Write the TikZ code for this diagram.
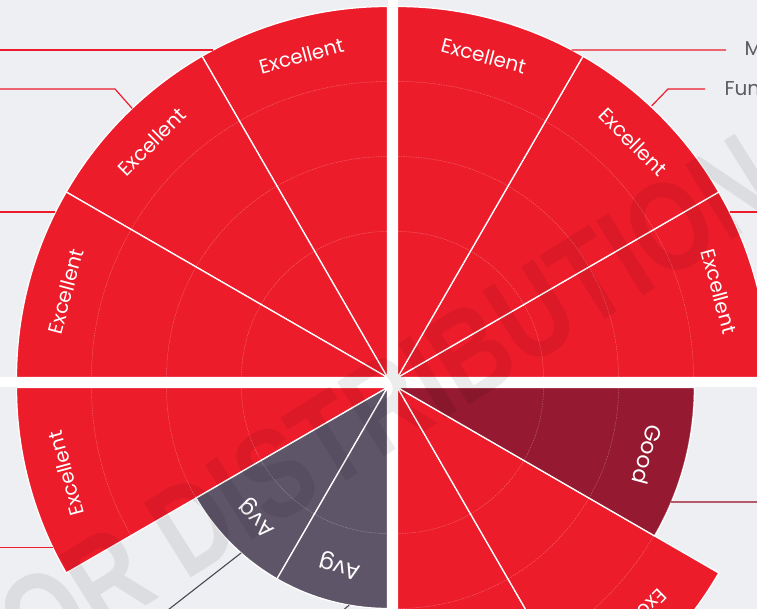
\documentclass[tikz,border=0pt]{standalone}
\usepackage{fontspec}
\setmainfont{Poppins}
\newfontfamily\markfont{Liberation Sans}
\usetikzlibrary{calc}

\definecolor{bgc}{HTML}{EEEFF3}
\definecolor{exc}{HTML}{ED1C2B}
\definecolor{goodc}{HTML}{951930}
\definecolor{avgc}{HTML}{5F5569}
\definecolor{lblgray}{HTML}{5B5C61}
\definecolor{goodline}{HTML}{B5596B}
\definecolor{avgline}{HTML}{4D4556}

% centre, from, to, radius, colour
\newcommand{\ratingslice}[5]{%
  \begin{scope}
    \clip (#1) -- ++(#2:#4) arc[start angle=#2, end angle=#3, radius=#4] -- cycle;
    \fill[#5] (#1) circle (#4);
    \foreach \rr in {146,221,296} \draw[ring] (#1) circle (\rr);
  \end{scope}
  \draw[sep] (#1) -- ++(#2:#4) arc[start angle=#2, end angle=#3, radius=#4] -- cycle;
}

\begin{document}
\begin{tikzpicture}[x=1pt,y=1pt,
    ring/.style={draw=white, draw opacity=0.3, line width=0.5pt, dash pattern=on 1.5pt off 1pt},
    sep/.style={draw=white, line width=1.3pt},
    lbl/.style={text=white, font=\fontsize{20}{24}\selectfont},
    lblbig/.style={text=white, font=\fontsize{22}{26}\selectfont},
    leader/.style={draw=exc, line width=1.2pt},
    side/.style={text=lblgray, font=\fontsize{20}{24}\selectfont, anchor=base west}]

  \useasboundingbox (0,0) rectangle (757,609);
  \clip (0,0) rectangle (757,609);
  \fill[bgc] (0,0) rectangle (757,609);

  \coordinate (origin) at (0,0);
  \coordinate (rightedge) at (757,0);
  \coordinate (tl) at (387.5,231.5);
  \coordinate (tr) at (397.5,231.5);
  \coordinate (bl) at (387.5,221.5);
  \coordinate (br) at (397.5,221.5);

  \ratingslice{tl}{90}{120}{371}{exc}
  \ratingslice{tl}{120}{150}{371}{exc}
  \ratingslice{tl}{150}{180}{371}{exc}
  \ratingslice{tr}{0}{30}{371}{exc}
  \ratingslice{tr}{30}{60}{371}{exc}
  \ratingslice{tr}{60}{90}{371}{exc}
  \ratingslice{bl}{180}{210}{371}{exc}
  \ratingslice{bl}{210}{240}{221}{avgc}
  \ratingslice{bl}{240}{270}{221}{avgc}
  \ratingslice{br}{270}{300}{371}{exc}
  \ratingslice{br}{300}{330}{371}{exc}
  \ratingslice{br}{330}{360}{297}{goodc}

  % white cross between the quarters
  \fill[white] (387.5,0) rectangle (397.5,609);
  \fill[white] (0,221.5) rectangle (757,231.5);

  % labels in the slices
  \foreach \a in {105,135,165} {
    \node[lbl, rotate=\a-90] (tl\a) at ([shift={(\a:333)}]tl) {Excellent};
  }
  \foreach \a in {15,45,75} {
    \node[lbl, rotate=\a-90] (tr\a) at ([shift={(\a:333)}]tr) {Excellent};
  }
  \node[lbl, rotate=105] (bl195) at ([shift={(195:333)}]bl) {Excellent};
  \node[lblbig, rotate=135] (bl225) at ([shift={(225:184)}]bl) {Avg};
  \node[lblbig, rotate=165] (bl255) at ([shift={(255:184)}]bl) {Avg};
  \node[lbl, rotate=195] (br285) at ([shift={(285:333)}]br) {Excellent};
  \node[lbl, rotate=225] (br315) at ([shift={(315:333)}]br) {Excellent};
  \node[lblbig, rotate=255] (br345) at ([shift={(345:259)}]br) {Good};

  % leader lines
  \coordinate (p1) at ([shift={(118:371)}]tl);
  \coordinate (p2) at ([shift={(133.5:371)}]tl);
  \coordinate (k2) at (115,520);
  \coordinate (p3) at ([shift={(153.5:371)}]tl);
  \coordinate (p4) at ([shift={(62:371)}]tr);
  \coordinate (q4) at (726,559);
  \coordinate (p5) at ([shift={(46.9:372)}]tr);
  \coordinate (k5) at (668,520);
  \coordinate (q5) at (705,520);
  \coordinate (p6) at ([shift={(26.5:371)}]tr);
  \coordinate (p7) at ([shift={(205.6:371)}]bl);
  \coordinate (g1) at ([shift={(228.5:221)}]bl);
  \coordinate (g1e) at (150,-15);
  \coordinate (g2) at ([shift={(260:221)}]bl);
  \coordinate (g2e) at (341,-3);
  \coordinate (p10) at ([shift={(337.3:297)}]br);

  \draw[leader] (p1) -- (p1 -| origin);
  \draw[leader] (p2) -- (k2) -- (k2 -| origin);
  \draw[leader] (p3) -- (p3 -| origin);
  \draw[leader] (p4) -- (q4);
  \draw[leader] (p5) -- (k5) -- (q5);
  \draw[leader] (p6) -- (p6 -| rightedge);
  \draw[leader] (p7) -- (p7 -| origin);
  \draw[avgline, line width=1.1pt] (g1) -- (g1e);
  \draw[avgline, line width=1.1pt] (g2) -- (g2e);
  \draw[goodline, line width=1.4pt] (p10) -- (p10 -| rightedge);

  \node[side] (mlbl) at (741,553) {M};
  \node[side] (funlbl) at (721,513) {Fun};

  % watermark
  \node[black, opacity=0.075, rotate=32, xscale=0.78, font=\markfont\bfseries\fontsize{128}{130}\selectfont] (mark) at (388,206) {OR DISTRIBUTION};
\end{tikzpicture}
\end{document}
